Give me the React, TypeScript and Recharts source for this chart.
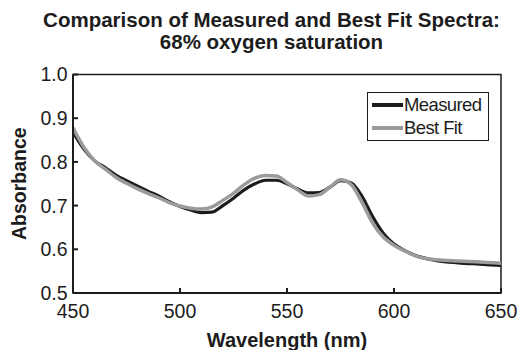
import { LineChart, Line, XAxis, YAxis, ReferenceArea } from 'recharts';

// Absorbance spectra.
const wavelengths = [
  450, 455, 460, 465, 470, 475, 480, 485, 490, 495, 500, 505, 510, 515, 520, 525, 530, 535,
  540, 545, 550, 555, 560, 565, 570, 575, 580, 585, 590, 595, 600, 605, 610, 620, 630, 640, 650,
];
const measured = [
  0.868, 0.83, 0.803, 0.787, 0.77, 0.757, 0.745, 0.733, 0.722, 0.709, 0.698, 0.69, 0.684, 0.685,
  0.7, 0.717, 0.736, 0.75, 0.758, 0.758, 0.75, 0.738, 0.729, 0.73, 0.742, 0.757, 0.752, 0.722,
  0.675, 0.637, 0.612, 0.597, 0.586, 0.574, 0.569, 0.566, 0.563,
];
const bestFit = [
  0.878, 0.834, 0.803, 0.784, 0.765, 0.751, 0.739, 0.728, 0.718, 0.707, 0.699, 0.694, 0.692, 0.697,
  0.712, 0.728, 0.748, 0.763, 0.769, 0.768, 0.753, 0.736, 0.722, 0.725, 0.742, 0.759, 0.748, 0.708,
  0.66, 0.628, 0.609, 0.596, 0.585, 0.576, 0.573, 0.571, 0.568,
];
const xTicks = [450, 500, 550, 600, 650];
const yTicks = [0.5, 0.6, 0.7, 0.8, 0.9, 1.0];
const seriesNames = ['Measured', 'Best Fit'];

const FONT = '"Liberation Sans", Arial, Helvetica, sans-serif';
const INK = '#1c1c1c';
const COLOR_MEASURED = '#1c1c1c';
const COLOR_FIT = '#9b9b9b';

const data = wavelengths.map((wl, i) => ({ wl, measured: measured[i], bestFit: bestFit[i] }));

function YTitle(props: any) {
  const vb = props.viewBox || { y: 0, height: 0 };
  const cx = 19.5;
  const cy = vb.y + vb.height / 2;
  return (
    <text
      x={cx}
      y={cy}
      dy="0.35em"
      transform={`rotate(-90 ${cx} ${cy})`}
      textAnchor="middle"
      fontFamily={FONT}
      fontWeight="bold"
      fontSize={19.5}
      fill={INK}
    >
      Absorbance
    </text>
  );
}

function LegendBox() {
  const rows = [
    { name: seriesNames[0], color: COLOR_MEASURED },
    { name: seriesNames[1], color: COLOR_FIT },
  ];
  return (
    <div
      style={{
        position: 'absolute',
        left: 367,
        top: 91.5,
        width: 120,
        height: 46,
        border: `1.5px solid ${INK}`,
        background: '#fff',
        fontFamily: FONT,
        fontSize: 18.5,
        color: INK,
        paddingTop: 1,
      }}
    >
      {rows.map((r) => (
        <div key={r.name} style={{ display: 'flex', alignItems: 'center', height: 23 }}>
          <span style={{ display: 'inline-block', width: 31, height: 4, marginLeft: 4, background: r.color }} />
          <span style={{ marginLeft: 1, letterSpacing: -0.6 }}>{r.name}</span>
        </div>
      ))}
    </div>
  );
}

export default function App() {
  return (
    <div style={{ position: 'absolute', left: 0, top: 0, width: 519, height: 350, background: '#fff' }}>
      <div
        style={{
          position: 'absolute',
          left: 0,
          top: 9,
          width: 543,
          textAlign: 'center',
          fontFamily: FONT,
          fontWeight: 'bold',
          fontSize: 20.5,
          lineHeight: '22px',
          color: INK,
        }}
      >
        Comparison of Measured and Best Fit Spectra:
        <br />
        68% oxygen saturation
      </div>
      <LineChart width={519} height={350} data={data} margin={{ top: 74.5, right: 18, bottom: 0, left: 13 }}>
        <ReferenceArea
          x1={450}
          x2={650}
          y1={0.5}
          y2={1.0}
          fill="none"
          stroke={INK}
          strokeWidth={1.5}
          ifOverflow="visible"
        />
        <XAxis
          dataKey="wl"
          type="number"
          domain={[450, 650]}
          ticks={xTicks}
          allowDataOverflow
          stroke={INK}
          strokeWidth={2}
          tickSize={-5}
          tickMargin={16.5}
          height={57}
          tick={{ fill: INK, fontSize: 19.5, fontFamily: FONT }}
          label={{
            value: 'Wavelength (nm)',
            position: 'insideBottom',
            offset: 3.5,
            fill: INK,
            fontSize: 20,
            fontWeight: 'bold',
            fontFamily: FONT,
          }}
        />
        <YAxis
          type="number"
          domain={[0.5, 1.0]}
          ticks={yTicks}
          allowDataOverflow
          width={60}
          stroke={INK}
          strokeWidth={2}
          tickSize={-5}
          tickMargin={10.5}
          tickFormatter={(v: number) => v.toFixed(1)}
          tick={{ fill: INK, fontSize: 19.5, fontFamily: FONT }}
          label={<YTitle />}
        />
        <Line
          dataKey="measured"
          name={seriesNames[0]}
          type="monotone"
          stroke={COLOR_MEASURED}
          strokeWidth={3.2}
          dot={false}
          isAnimationActive={false}
        />
        <Line
          dataKey="bestFit"
          name={seriesNames[1]}
          type="monotone"
          stroke={COLOR_FIT}
          strokeWidth={3.5}
          dot={false}
          isAnimationActive={false}
        />
      </LineChart>
      <LegendBox />
    </div>
  );
}
